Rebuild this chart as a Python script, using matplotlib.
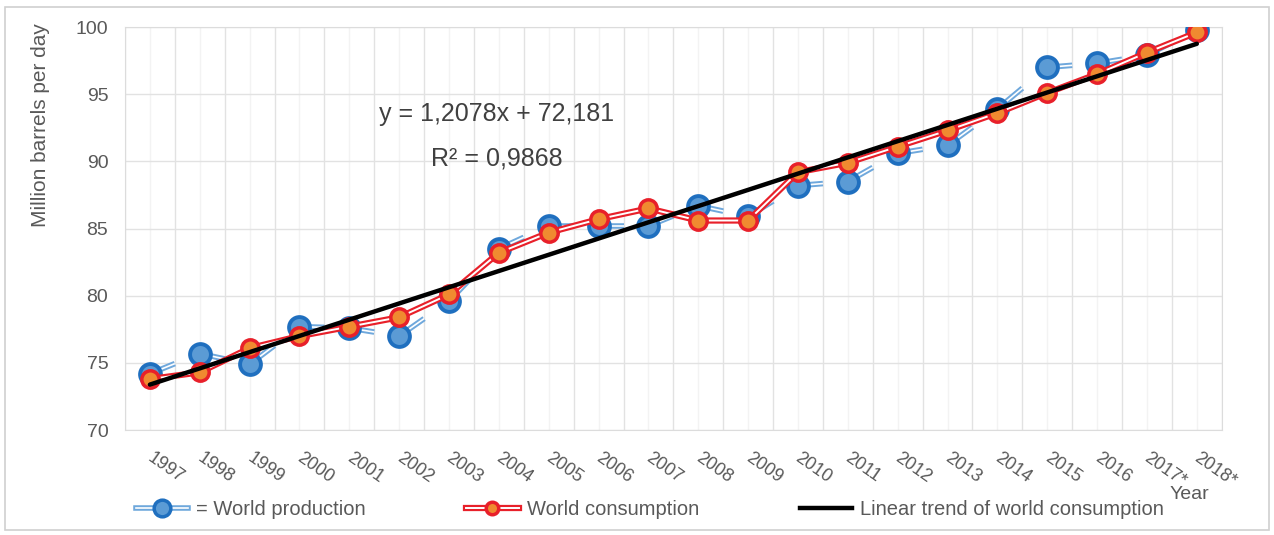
import numpy as np
import matplotlib.pyplot as plt
from matplotlib.lines import Line2D
from matplotlib.patches import Rectangle
from matplotlib.ticker import MultipleLocator

plt.rcParams["font.family"] = ["Liberation Sans Narrow", "Liberation Sans", "DejaVu Sans"]

years = ["1997", "1998", "1999", "2000", "2001", "2002", "2003", "2004", "2005",
         "2006", "2007", "2008", "2009", "2010", "2011", "2012", "2013", "2014",
         "2015", "2016", "2017*", "2018*"]
production = [74.2, 75.7, 74.9, 77.7, 77.6, 77.0, 79.6, 83.5, 85.2, 85.2, 85.2,
              86.7, 85.9, 88.2, 88.5, 90.6, 91.2, 93.9, 97.0, 97.3, 97.9, 99.8]
consumption = [73.8, 74.3, 76.1, 77.0, 77.7, 78.4, 80.1, 83.2, 84.7, 85.7, 86.5,
               85.6, 85.6, 89.2, 89.9, 91.1, 92.3, 93.6, 95.1, 96.5, 98.1, 99.6]
trend_slope = 1.2078
trend_intercept = 72.181
r_squared = 0.9868

GRAY = "#595959"
BLUE_DARK = "#1f6fbf"
BLUE_FACE = "#5b9bd5"
BLUE_LINE = "#6fa8dc"
RED = "#e8202a"
ORANGE = "#f08a30"

x = np.arange(len(years))
prod = np.array(production)
cons = np.array(consumption)

fig = plt.figure(figsize=(12.74, 5.35), dpi=100)
ax = fig.add_axes([0.0981, 0.196, 0.8609, 0.7535])

# outer frame of the chart
fig.patches.append(Rectangle((0.004, 0.009), 0.992, 0.978, transform=fig.transFigure,
                             fill=False, edgecolor="#d0d0d0", lw=1.2))

# trend line from the fitted equation
trend = trend_slope * (x + 1) + trend_intercept

# production: markers with short double-line stubs toward the next point
for i in range(len(x) - 1):
    t = np.array([0.18, 0.5])
    sx = x[i] + t * (x[i + 1] - x[i])
    sy = prod[i] + t * (prod[i + 1] - prod[i])
    ax.plot(sx, sy, color=BLUE_LINE, lw=4, solid_capstyle="butt", zorder=2)
    ax.plot(sx, sy, color="white", lw=1.2, solid_capstyle="butt", zorder=2.1)
ax.plot(x, prod, ls="none", marker="o", ms=15, mfc=BLUE_FACE, mec=BLUE_DARK,
        mew=2.8, zorder=3)

# consumption: red double line with orange markers
ax.plot(x, cons, color=RED, lw=4.5, zorder=4)
ax.plot(x, cons, color="white", lw=1.4, zorder=4.1)
ax.plot(x, cons, ls="none", marker="o", ms=12.5, mfc=ORANGE, mec=RED, mew=2.5,
        zorder=4.2)

ax.plot(x, trend, color="black", lw=3.2, zorder=5, solid_capstyle="round")

ax.set_xlim(-0.5, len(x) - 0.5)
ax.set_ylim(70, 100)
ax.yaxis.set_major_locator(MultipleLocator(5))
ax.set_xticks(np.arange(-0.5, len(x)), minor=False)
ax.set_xticklabels([])
ax.set_xticks(x, minor=True)
ax.grid(True, which="major", color="#e2e2e2", lw=1)
ax.grid(True, which="minor", axis="x", color="#f3f3f3", lw=1)
ax.tick_params(which="both", length=0)
ax.tick_params(axis="y", labelsize=14, labelcolor=GRAY, pad=12)
for s in ax.spines.values():
    s.set_color("#dcdcdc")
ax.set_axisbelow(True)

for xi, lab in zip(x, years):
    ax.text(xi + 0.08, 68.6, lab, rotation=-35, rotation_mode="anchor", ha="left",
            va="top", fontsize=13, color=GRAY)
ax.text(20.45, 65.2, "Year", fontsize=14, color=GRAY, ha="left", va="center")

ax.set_ylabel("Million barrels per day", fontsize=15, color=GRAY)
ax.yaxis.set_label_coords(-0.077, 1.01, transform=ax.transAxes)
ax.yaxis.label.set_verticalalignment("center")
ax.yaxis.label.set_horizontalalignment("right")

eq = f"y = {trend_slope:.4f}x + {trend_intercept:.3f}".replace(".", ",")
r2 = f"R² = {r_squared:.4f}".replace(".", ",")
ax.text(6.95, 93.5, eq, fontsize=18, color="#404040", ha="center", va="center")
ax.text(6.95, 90.2, r2, fontsize=18, color="#404040", ha="center", va="center")

h_prod = (Line2D([], [], color=BLUE_LINE, lw=4),
          Line2D([], [], color="white", lw=1.2),
          Line2D([], [], ls="none", marker="o", ms=12, mfc=BLUE_FACE, mec=BLUE_DARK, mew=2.5))
h_cons = (Line2D([], [], color=RED, lw=4.5),
          Line2D([], [], color="white", lw=1.4),
          Line2D([], [], ls="none", marker="o", ms=9, mfc=ORANGE, mec=RED, mew=2.5))
h_trend = Line2D([], [], color="black", lw=3.2)
fig.legend([h_prod, h_cons, h_trend],
           ["= World production", "World consumption", "Linear trend of world consumption"],
           loc="center", bbox_to_anchor=(0.51, 0.047), ncol=3, frameon=False,
           fontsize=14.5, handlelength=2.6, handletextpad=0.4, columnspacing=5.0,
           labelcolor=GRAY)

fig.savefig("out.png", dpi=100)
